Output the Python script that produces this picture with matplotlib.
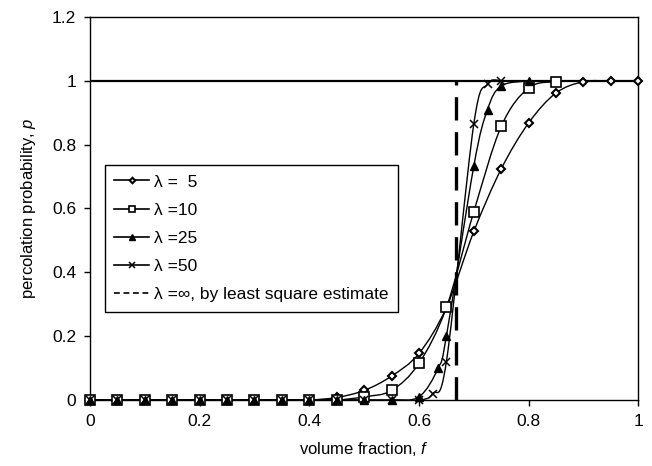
import numpy as np
import matplotlib
matplotlib.use("Agg")
import matplotlib.pyplot as plt
from matplotlib.path import Path
from matplotlib.patches import PathPatch
from matplotlib.lines import Line2D

plt.rcParams['font.family'] = ['Liberation Sans', 'DejaVu Sans']
plt.rcParams['mathtext.fontset'] = 'custom'
plt.rcParams['mathtext.rm'] = 'Liberation Sans'
plt.rcParams['mathtext.it'] = 'Liberation Sans:italic'

# percolation probability vs. volume fraction for several aspect ratios
f_base = [0.0, 0.05, 0.1, 0.15, 0.2, 0.25, 0.3, 0.35, 0.4]

f_l5 = f_base + [0.45, 0.5, 0.55, 0.6, 0.65, 0.7, 0.75, 0.8, 0.85, 0.9, 0.95, 1.0]
p_l5 = [0] * 9 + [0.008, 0.03, 0.075, 0.146, 0.29, 0.528, 0.724, 0.868, 0.962, 0.997, 1.0, 1.0]

f_l10 = f_base + [0.45, 0.5, 0.55, 0.6, 0.65, 0.7, 0.75, 0.8, 0.85]
p_l10 = [0] * 9 + [0.0, 0.01, 0.03, 0.115, 0.29, 0.59, 0.857, 0.978, 0.997]

f_l25 = f_base + [0.45, 0.5, 0.55, 0.6, 0.635, 0.65, 0.7, 0.725, 0.75, 0.8]
p_l25 = [0] * 9 + [0.0, 0.0, 0.0, 0.01, 0.10, 0.20, 0.733, 0.91, 0.984, 1.0]

f_l50 = f_base + [0.45, 0.5, 0.55, 0.6, 0.625, 0.65, 0.7, 0.725, 0.75]
p_l50 = [0] * 9 + [0.0, 0.0, 0.0, 0.0, 0.02, 0.12, 0.865, 0.99, 1.0]

f_critical = 0.668

labels = [r"λ =  5", r"λ =10", r"λ =25", r"λ =50"]
inf_label = "λ =∞, by least square estimate"


def smooth_path(x, y):
    """Bezier path through the points (Excel-style smoothed line)."""
    pts = np.column_stack([x, y]).astype(float)
    n = len(pts)
    verts = [pts[0]]
    codes = [Path.MOVETO]
    for i in range(n - 1):
        p0 = pts[i - 1] if i > 0 else pts[i]
        p1 = pts[i]
        p2 = pts[i + 1]
        p3 = pts[i + 2] if i + 2 < n else pts[i + 1]
        c1 = p1 + (p2 - p0) / 6.0
        c2 = p2 - (p3 - p1) / 6.0
        verts += [c1, c2, p2]
        codes += [Path.CURVE4] * 3
    return Path(verts, codes)


fig = plt.figure(figsize=(6.52, 4.66), dpi=100)
ax = fig.add_axes([0.138, 0.1416, 0.841, 0.822])

styles = [
    dict(marker='D', markersize=4, markerfacecolor='white', markeredgewidth=1.5),
    dict(marker='s', markersize=7, markerfacecolor='white', markeredgewidth=1.2),
    dict(marker='^', markersize=6, markerfacecolor='black', markeredgewidth=1.0),
    dict(marker='x', markersize=6, markeredgewidth=1.1),
]
series = [(f_l5, p_l5), (f_l10, p_l10), (f_l25, p_l25), (f_l50, p_l50)]

ax.axhline(1.0, color='black', lw=1.6, zorder=1)

handles = []
for (fx, py), st, lab in zip(series, styles, labels):
    ax.add_patch(PathPatch(smooth_path(fx, py), fill=False, edgecolor='black',
                           lw=1.0, zorder=2))
    ax.plot(fx, py, linestyle='none', color='black', markeredgecolor='black',
            zorder=3, clip_on=False, **st)
    handles.append(Line2D([], [], color='black', lw=1.2,
                          markeredgecolor='black', **st))

ax.plot([f_critical, f_critical], [0, 1], color='black', lw=2.4,
        dashes=(7, 3.5), zorder=2)
handles.append(Line2D([], [], color='black', lw=1.2, dashes=(3.5, 2.2)))

ax.set_xlim(0, 1)
ax.set_ylim(0, 1.2)
ax.set_xticks(np.arange(0, 1.01, 0.2))
ax.set_yticks(np.arange(0, 1.21, 0.2))
ax.set_xticklabels(["0", "0.2", "0.4", "0.6", "0.8", "1"])
ax.set_yticklabels(["0", "0.2", "0.4", "0.6", "0.8", "1", "1.2"])
ax.tick_params(direction='out', length=4, width=1, labelsize=12.5, pad=6)
for s in ax.spines.values():
    s.set_linewidth(1.0)

ax.set_xlabel("volume fraction, $f$", fontsize=12, labelpad=8)
ax.set_ylabel("percolation probability, $p$", fontsize=12, labelpad=10)

leg = ax.legend(handles, labels + [inf_label], loc='upper left',
                bbox_to_anchor=(0.027, 0.614), borderaxespad=0,
                fontsize=12.5, handlelength=2.0, handletextpad=0.3,
                labelspacing=0.75, fancybox=False, framealpha=1,
                edgecolor='black', borderpad=0.55, markerscale=0.7)
leg.get_frame().set_linewidth(1.0)

fig.savefig("out.png", dpi=100)
